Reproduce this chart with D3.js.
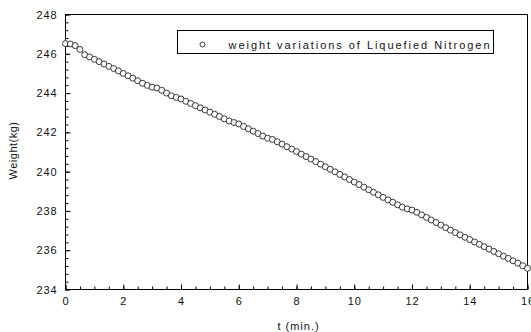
<!DOCTYPE html>
<html>
<head>
    <title>Weight variations of Liquefied Nitrogen</title>
    <script src="https://d3js.org/d3.v7.min.js"></script>
    <style>
        body { margin: 0; background: #fff; }
        svg { display: block; }
        text { font-family: "Liberation Sans", Arial, sans-serif; fill: #111; }
        .tick text { font-size: 11px; letter-spacing: 0.9px; }
        .axis path, .axis line { stroke: #000; }
        .pt { fill: #fff; stroke: #222; stroke-width: 0.9; }
    </style>
</head>
<body>
    <div id="chart"></div>
    <script>
	// elapsed time in seconds (sampled every 10 s)
	const seconds = [0, 10, 20, 30, 40, 50, 60, 70, 80, 90, 100, 110, 120, 130, 140, 150, 160, 170,
	    180, 190, 200, 210, 220, 230, 240, 250, 260, 270, 280, 290, 300, 310, 320, 330, 340, 350,
	    360, 370, 380, 390, 400, 410, 420, 430, 440, 450, 460, 470, 480, 490, 500, 510, 520, 530,
	    540, 550, 560, 570, 580, 590, 600, 610, 620, 630, 640, 650, 660, 670, 680, 690, 700, 710,
	    720, 730, 740, 750, 760, 770, 780, 790, 800, 810, 820, 830, 840, 850, 860, 870, 880, 890,
	    900, 910, 920, 930, 940, 950, 960];
	// weight (kg)
	const weights = [246.52, 246.50, 246.42, 246.22, 245.95, 245.84, 245.72, 245.60, 245.48, 245.36,
	    245.25, 245.13, 245.00, 244.88, 244.76, 244.63, 244.50, 244.39, 244.30, 244.26,
	    244.14, 244.00, 243.86, 243.78, 243.70, 243.58, 243.47, 243.36, 243.25, 243.14,
	    243.03, 242.92, 242.81, 242.69, 242.58, 242.50, 242.43, 242.30, 242.18, 242.06,
	    241.94, 241.81, 241.70, 241.64, 241.52, 241.40, 241.27, 241.15, 241.02, 240.89,
	    240.77, 240.64, 240.51, 240.38, 240.25, 240.12, 239.99, 239.86, 239.73, 239.60,
	    239.47, 239.34, 239.21, 239.08, 238.95, 238.82, 238.69, 238.56, 238.44, 238.31,
	    238.19, 238.10, 238.04, 237.93, 237.80, 237.67, 237.54, 237.41, 237.28, 237.15,
	    237.02, 236.90, 236.78, 236.66, 236.54, 236.42, 236.30, 236.18, 236.06, 235.94,
	    235.82, 235.70, 235.58, 235.46, 235.34, 235.21, 235.08];
	const xTicks = [0, 2, 4, 6, 8, 10, 12, 14, 16];
	const yTicks = [234, 236, 238, 240, 242, 244, 246, 248];
	const legendLabel = "weight variations of Liquefied Nitrogen";

	const margin = {top: 14, right: 4, bottom: 43, left: 65};
	const width = 531 - margin.left - margin.right;
	const height = 332 - margin.top - margin.bottom;

	const x = d3.scaleLinear().domain([0, 16]).range([0, width]);
	const y = d3.scaleLinear().domain([234, 248]).range([height, 0]);

	const svg = d3.select("#chart").append("svg")
	    .attr("width", 531)
	    .attr("height", 332)
	    .append("g")
	    .attr("transform", `translate(${margin.left + 0.5},${margin.top + 0.5})`);

	// minor ticks
	svg.append("g")
	    .attr("class", "axis")
	    .attr("transform", `translate(0,${height})`)
	    .call(d3.axisBottom(x).tickValues(d3.range(0, 16.01, 0.5)).tickSize(-3).tickSizeOuter(0).tickFormat(""));
	svg.append("g")
	    .attr("class", "axis")
	    .call(d3.axisLeft(y).tickValues(d3.range(234, 248.01, 0.4)).tickSize(-3).tickSizeOuter(0).tickFormat(""));

	// major ticks + labels
	svg.append("g")
	    .attr("class", "axis")
	    .attr("transform", `translate(0,${height})`)
	    .call(d3.axisBottom(x).tickValues(xTicks).tickSize(-5).tickSizeOuter(0).tickPadding(8).tickFormat(d3.format("d")));
	svg.append("g")
	    .attr("class", "axis")
	    .call(d3.axisLeft(y).tickValues(yTicks).tickSize(-5).tickSizeOuter(0).tickPadding(8).tickFormat(d3.format("d")));

	svg.selectAll(".axis .domain").remove();

	// frame
	svg.append("rect")
	    .attr("width", width)
	    .attr("height", height)
	    .attr("fill", "none")
	    .attr("stroke", "#000");

	// data points
	svg.append("g")
	    .selectAll("circle")
	    .data(seconds.map((s, i) => ({t: s / 60, w: weights[i]})))
	    .enter().append("circle")
	        .attr("class", "pt")
	        .attr("cx", d => x(d.t))
	        .attr("cy", d => y(d.w))
	        .attr("r", 3);

	// legend
	const lg = svg.append("g").attr("transform", `translate(${177 - margin.left},${30 - margin.top})`);
	lg.append("rect")
	    .attr("width", 316)
	    .attr("height", 23)
	    .attr("fill", "#fff")
	    .attr("stroke", "#000");
	lg.append("circle")
	    .attr("class", "pt")
	    .attr("cx", 25)
	    .attr("cy", 14)
	    .attr("r", 2.5);
	lg.append("text")
	    .attr("x", 51)
	    .attr("y", 18)
	    .attr("font-size", 11)
	    .attr("textLength", 261)
	    .attr("lengthAdjust", "spacing")
	    .text(legendLabel);

	// axis titles
	svg.append("text")
	    .attr("x", 298 - margin.left)
	    .attr("y", 329 - margin.top)
	    .attr("text-anchor", "middle")
	    .attr("font-size", 11)
	    .attr("letter-spacing", 1)
	    .text("t (min.)");
	svg.append("text")
	    .attr("transform", `translate(${16 - margin.left},${150 - margin.top}) rotate(-90)`)
	    .attr("text-anchor", "middle")
	    .attr("font-size", 11)
	    .attr("letter-spacing", 0.5)
	    .text("Weight(kg)");
	</script>
</body>
</html>
